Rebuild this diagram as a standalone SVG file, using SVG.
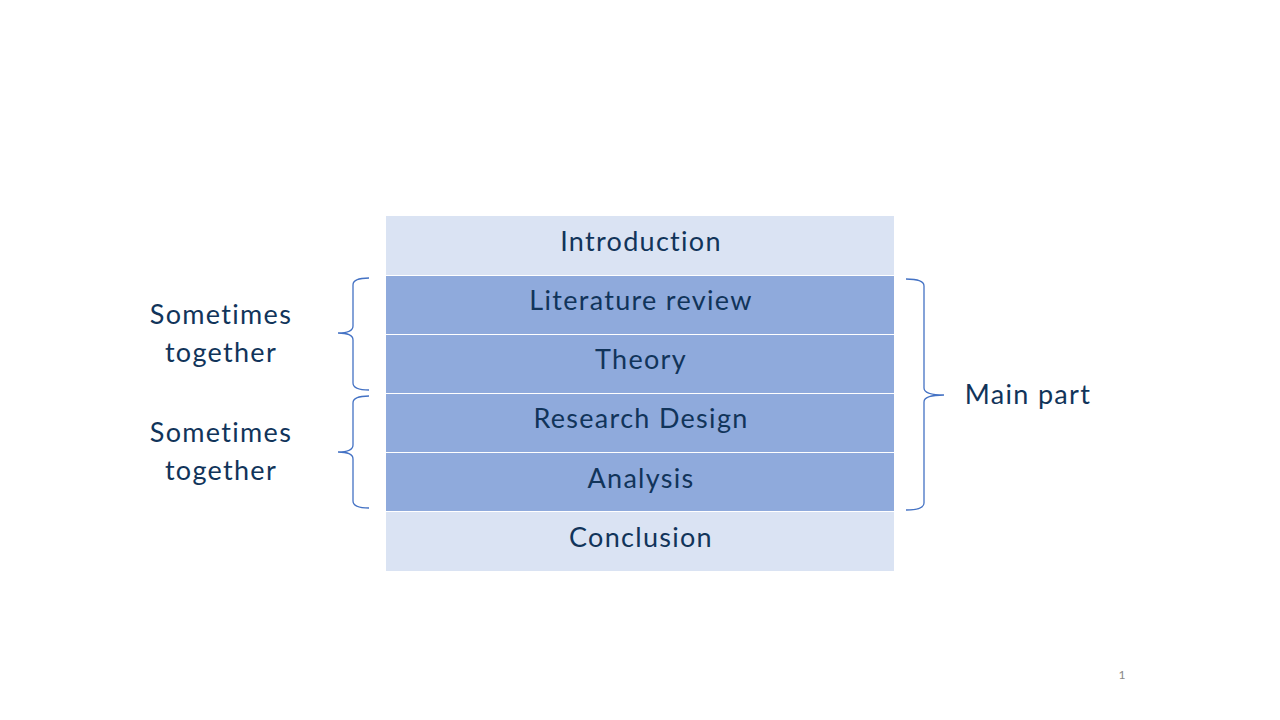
<svg xmlns="http://www.w3.org/2000/svg" width="1280" height="720" viewBox="0 0 1280 720">
<style>
.light{fill:#DAE3F3}
.dark{fill:#8FAADC}
.t{font-family:Lato,"Liberation Sans",sans-serif;font-size:27px;letter-spacing:1.3px;fill:#11345A;text-anchor:middle}
.brace{fill:none;stroke:#4472C4;stroke-width:1.3}
</style>
<rect width="1280" height="720" fill="#FFFFFF"/>
<g id="introduction"><rect class="light" x="386" y="216" width="508" height="59"/><text class="t" x="641" y="251">Introduction</text></g>
<g id="literature-review"><rect class="dark" x="386" y="276" width="508" height="58"/><text class="t" x="641" y="310">Literature review</text></g>
<g id="theory"><rect class="dark" x="386" y="335" width="508" height="58"/><text class="t" x="641" y="369">Theory</text></g>
<g id="research-design"><rect class="dark" x="386" y="394" width="508" height="58"/><text class="t" x="641" y="428">Research Design</text></g>
<g id="analysis"><rect class="dark" x="386" y="453" width="508" height="58"/><text class="t" x="641" y="488">Analysis</text></g>
<g id="conclusion"><rect class="light" x="386" y="512" width="508" height="59"/><text class="t" x="641" y="547">Conclusion</text></g>
<g id="braces">
<path class="brace" d="M369,278 Q353,278 353,285 L353,326 Q353,333 338,333 Q353,333 353,340 L353,383 Q353,390 369,390"/>
<path class="brace" d="M369,396 Q353,396 353,403 L353,445 Q353,452 338,452 Q353,452 353,459 L353,501 Q353,508 369,508"/>
<path class="brace" d="M906,279 Q924,279 924,286 L924,388 Q924,395 944,395 Q924,395 924,402 L924,503 Q924,510 906,510"/>
</g>
<g id="labels">
<text class="t" x="221" y="324">Sometimes</text>
<text class="t" x="221" y="362">together</text>
<text class="t" x="221" y="442">Sometimes</text>
<text class="t" x="221" y="480">together</text>
<text class="t" x="1028" y="404">Main part</text>
<text x="1122" y="679" style="font-family:Lato,'Liberation Sans',sans-serif;font-size:12px;fill:#898989;text-anchor:middle">1</text>
</g>
</svg>
